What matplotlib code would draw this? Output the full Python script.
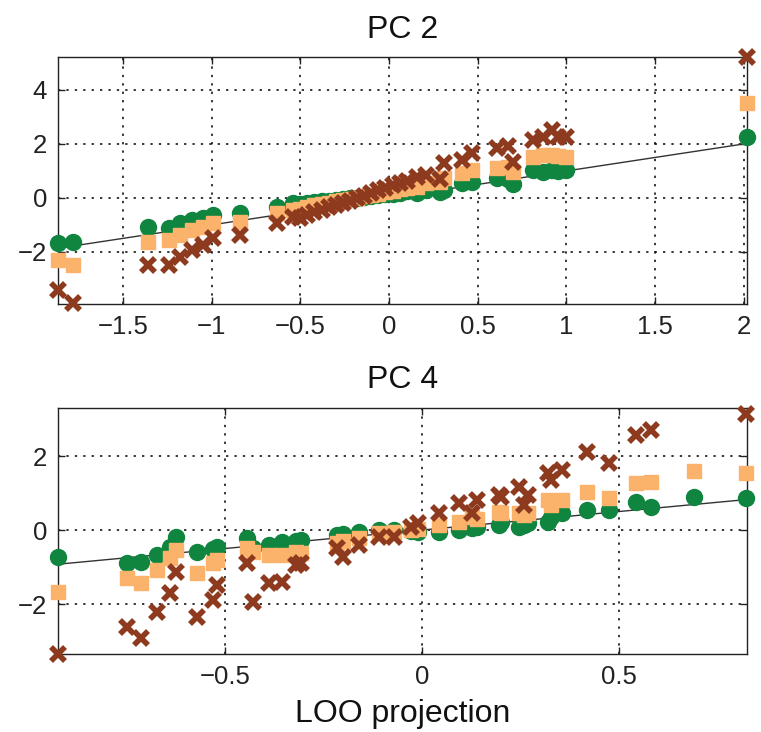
import numpy as np
import matplotlib
matplotlib.use("Agg")
import matplotlib.pyplot as plt

plt.rcParams["font.family"] = ["Liberation Sans", "DejaVu Sans"]

# ---- PC 2 panel -------------------------------------------------------------
pc2_x = [-1.865, -1.78, -1.36, -1.24, -1.18, -1.11, -1.05, -0.99, -0.84, -0.63, -0.54,
         -0.50, -0.46, -0.42, -0.38, -0.34, -0.30, -0.26, -0.22, -0.18, -0.14, -0.10,
         -0.06, -0.02, 0.02, 0.06, 0.10,
         0.16, 0.21, 0.29, 0.31, 0.41, 0.47, 0.61, 0.67, 0.70, 0.81, 0.87, 0.92, 0.95,
         1.00, 2.017]
pc2_green = [-1.67, -1.63, -1.07, -1.11, -0.93, -0.81, -0.74, -0.63, -0.56, -0.33, -0.19,
             -0.22, -0.18, -0.15, -0.12, -0.10, -0.07, -0.04, -0.02, 0.01, 0.04, 0.07,
             0.10, 0.13, 0.16, 0.20, 0.24,
             0.18, 0.30, 0.22, 0.30, 0.56, 0.59, 0.74, 0.70, 0.52, 1.04, 0.96, 1.04, 1.00,
             1.04, 2.26]
pc2_orange = [-2.30, -2.48, -1.63, -1.55, -1.37, -1.19, -1.07, -0.93, -0.89, -0.56, -0.44,
              -0.40, -0.33, -0.27, -0.22, -0.18, -0.13, -0.08, -0.04, 0.01, 0.06, 0.10,
              0.16, 0.21, 0.27, 0.32, 0.38,
              0.41, 0.56, 0.60, 0.75, 0.93, 1.04, 1.11, 1.15, 0.96, 1.52, 1.59, 1.59, 1.55,
              1.52, 3.52]
pc2_brown = [-3.40, -3.90, -2.48, -2.48, -2.19, -1.93, -1.74, -1.48, -1.37, -0.93, -0.70,
             -0.75, -0.62, -0.52, -0.44, -0.35, -0.27, -0.18, -0.10, -0.02, 0.08, 0.18,
             0.28, 0.38, 0.48, 0.56, 0.64,
             0.78, 0.85, 0.70, 1.30, 1.41, 1.67, 1.85, 1.93, 1.33, 2.15, 2.26, 2.52, 2.26,
             2.26, 5.22]

# ---- PC 4 panel -------------------------------------------------------------
pc4_x = [-0.924, -0.749, -0.713, -0.673, -0.64, -0.624, -0.571, -0.53, -0.52, -0.444,
         -0.43, -0.388, -0.355, -0.32, -0.307, -0.216, -0.20, -0.16, -0.109, -0.071,
         -0.028, -0.01, 0.043, 0.094, 0.127, 0.14, 0.195, 0.20, 0.246, 0.259,
         0.27, 0.32, 0.327, 0.355, 0.419, 0.475, 0.543, 0.581, 0.690, 0.822]
pc4_green = [-0.73, -0.89, -0.86, -0.68, -0.45, -0.19, -0.59, -0.50, -0.46, -0.22,
             -0.49, -0.41, -0.32, -0.30, -0.27, -0.14, -0.12, -0.05, 0.00, 0.00,
             -0.02, -0.05, -0.05, 0.00, 0.05, 0.08, 0.14, 0.22, 0.08, 0.14,
             0.18, 0.22, 0.35, 0.46, 0.54, 0.54, 0.76, 0.62, 0.89, 0.86]
pc4_orange = [-1.68, -1.30, -1.43, -1.08, -0.75, -0.54, -1.16, -0.90, -0.81, -0.49,
              -0.60, -0.68, -0.68, -0.60, -0.62, -0.35, -0.30, -0.22, -0.08, -0.05,
              0.00, 0.02, 0.14, 0.22, 0.35, 0.30, 0.49, 0.46, 0.46, 0.41,
              0.45, 0.81, 0.68, 0.81, 1.03, 0.86, 1.27, 1.30, 1.59, 1.54]
pc4_brown = [-3.35, -2.62, -2.92, -2.22, -1.70, -1.14, -2.35, -1.89, -1.49, -0.89,
             -1.95, -1.43, -1.41, -0.95, -0.89, -0.49, -0.73, -0.41, -0.19, -0.19,
             0.08, 0.19, 0.46, 0.73, 0.46, 0.81, 0.95, 0.89, 1.16, 0.68,
             0.95, 1.54, 1.35, 1.62, 2.11, 1.81, 2.57, 2.70, np.nan, 3.14]

GREEN, ORANGE, BROWN = "#0f8540", "#fbb26b", "#8e3a1f"


def panel(ax, x, g, o, b, title, xlim, ylim, xticks, yticks):
    lo, hi = min(x), max(x)
    ax.plot([lo, hi], [lo, hi], color="#333333", lw=1.0, zorder=2)
    kw = dict(linestyle="none", clip_on=False)
    ax.plot(x, g, marker="o", ms=11.5, mfc=GREEN, mec=GREEN, zorder=3, **kw)
    ax.plot(x, o, marker="s", ms=9.8, mfc=ORANGE, mec=ORANGE, zorder=4, **kw)
    ax.plot(x, b, marker="x", ms=10.5, mew=4.0, color=BROWN, zorder=5, **kw)
    ax.set_xlim(*xlim); ax.set_ylim(*ylim)
    ax.set_xticks(xticks); ax.set_yticks(yticks)
    ax.grid(True, color="black", lw=1.1, linestyle=(0, (1.5, 4.0)))
    ax.set_axisbelow(True)
    ax.tick_params(direction="in", length=5, width=1, top=True, right=True,
                   labelsize=18.5, pad=8, colors="#222222")
    for s in ax.spines.values():
        s.set_linewidth(1.0); s.set_color("#222222")
    ax.set_title(title, fontsize=23, pad=14, color="#111111")


fig = plt.figure(figsize=(7.61, 7.32), dpi=100)
ax1 = fig.add_axes([0.0762, 0.5847, 0.9054, 0.3374])
ax2 = fig.add_axes([0.0762, 0.1066, 0.9054, 0.3361])

panel(ax1, pc2_x, pc2_green, pc2_orange, pc2_brown, "PC 2",
      (-1.865, 2.017), (-3.93, 5.22), [-1.5, -1, -0.5, 0, 0.5, 1, 1.5, 2], [-2, 0, 2, 4])
panel(ax2, pc4_x, pc4_green, pc4_orange, pc4_brown, "PC 4",
      (-0.924, 0.825), (-3.35, 3.30), [-0.5, 0, 0.5], [-2, 0, 2])
ax1.set_xticklabels(["\u22121.5", "\u22121", "\u22120.5", "0", "0.5", "1", "1.5", "2"])
ax2.set_xticklabels(["\u22120.5", "0", "0.5"])
ax2.set_xlabel("LOO projection", fontsize=23, labelpad=7, color="#111111")

fig.savefig("out.png", dpi=100)
